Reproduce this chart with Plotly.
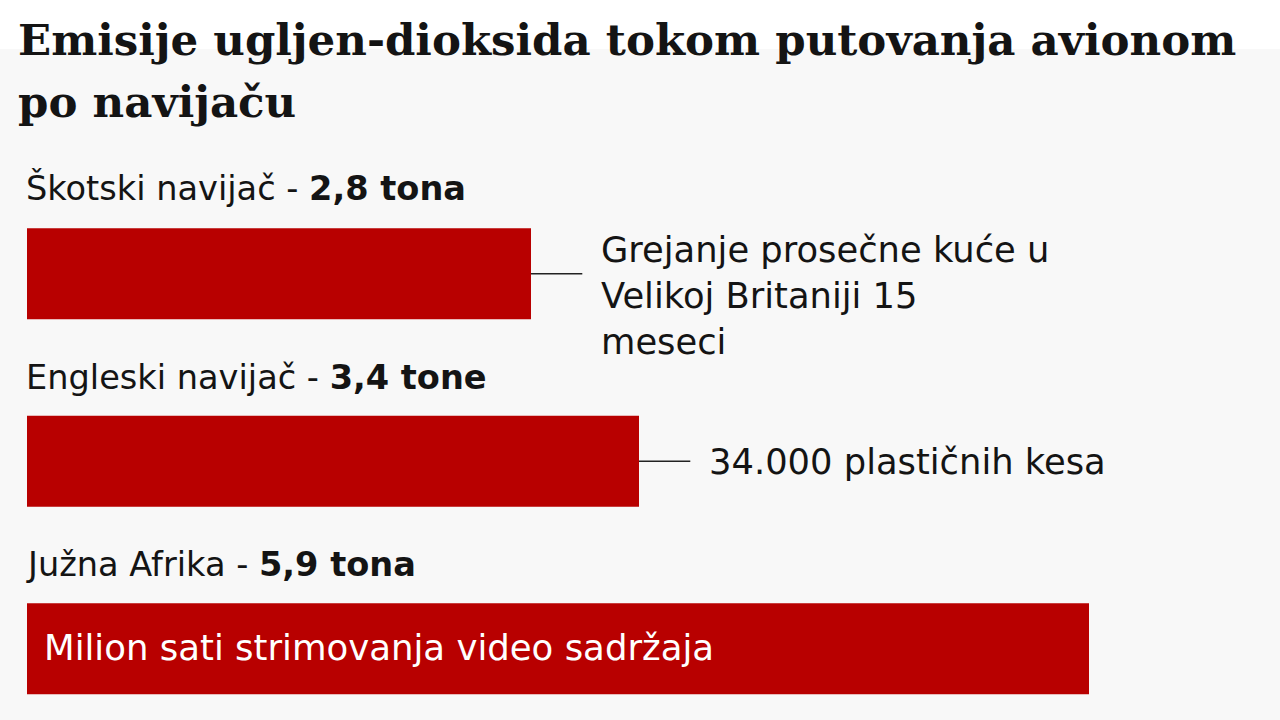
import plotly.graph_objects as go

# emisije po navijacu (tone CO2)
categories = ["Škotski navijač", "Engleski navijač", "Južna Afrika"]
values = [2.8, 3.4, 5.9]
value_labels = ["2,8 tona", "3,4 tone", "5,9 tona"]
comparisons = [
    "Grejanje prosečne kuće u<br>Velikoj Britaniji 15<br>meseci",
    "34.000 plastičnih kesa",
    "Milion sati strimovanja video sadržaja",
]

title_lines = ["Emisije ugljen-dioksida tokom putovanja avionom", "po navijaču"]

red = "#b80000"
sans = "DejaVu Sans"

fig = go.Figure()
fig.add_trace(go.Bar(
    x=values,
    y=categories,
    orientation="h",
    width=0.485,
    marker=dict(color=red, line=dict(width=0)),
    hoverinfo="skip",
))

annotations = []
shapes = []
for i, (cat, val, lab, comp) in enumerate(zip(categories, values, value_labels, comparisons)):
    # naslov iznad trake
    annotations.append(dict(
        x=0, y=cat, xref="x", yref="y",
        text=cat + " - <b>" + lab + "</b>",
        showarrow=False, xanchor="left", yanchor="middle",
        xshift=-3, yshift=86 if i == 0 else 84,
        font=dict(family=sans, size=33.6, color="#141414"),
    ))
    if i < 2:
        shapes.append(dict(
            type="line", xref="x", yref="y",
            x0=val, x1=val + 0.285, y0=i, y1=i,
            line=dict(color="#222222", width=1.5),
        ))
        annotations.append(dict(
            x=val, y=cat, xref="x", yref="y",
            text=comp, align="left",
            showarrow=False, xanchor="left", yanchor="middle",
            xshift=68, yshift=-22 if i == 0 else 0,
            font=dict(family=sans, size=35.3, color="#141414"),
        ))
    else:
        annotations.append(dict(
            x=0, y=cat, xref="x", yref="y",
            text=comp,
            showarrow=False, xanchor="left", yanchor="middle",
            xshift=15, yshift=1,
            font=dict(family=sans, size=35.5, color="white"),
        ))

# naslov, dva reda
for j, line in enumerate(title_lines):
    annotations.append(dict(
        x=-11 / 1253, y=1 + (180 - 12 - 62 * j) / 540, xref="paper", yref="paper",
        text="<b>" + line + "</b>", align="left",
        showarrow=False, xanchor="left", yanchor="top",
        font=dict(family="DejaVu Serif", size=43.5, color="#141414"),
    ))

# bijela traka iza vrha naslova
shapes.append(dict(
    type="rect", xref="paper", yref="paper", layer="below",
    x0=-0.05, x1=1.05, y0=1 + (180 - 49) / 540, y1=1.5,
    fillcolor="white", line=dict(width=0),
))

fig.update_layout(
    width=1280, height=720,
    margin=dict(l=27, r=0, t=180, b=0),
    paper_bgcolor="#f8f8f8",
    plot_bgcolor="rgba(0,0,0,0)",
    showlegend=False,
    xaxis=dict(range=[0, 1253 / 180], visible=False, fixedrange=True),
    yaxis=dict(range=[2.38, -0.5], visible=False, fixedrange=True),
    annotations=annotations,
    shapes=shapes,
)

fig.write_html("out.html", config={"displayModeBar": False},
               post_script="document.body.style.margin='0';")
